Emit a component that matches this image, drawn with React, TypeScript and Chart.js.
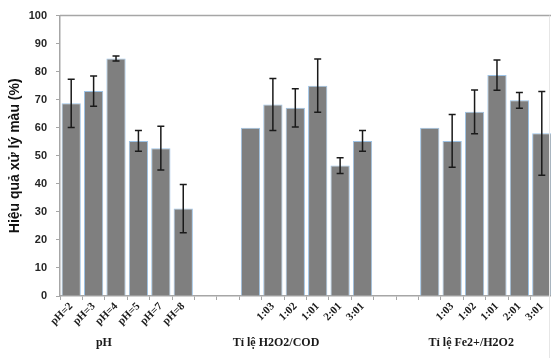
import React, { useEffect, useRef } from "react";
import { Chart, registerables } from "chart.js";

Chart.register(...registerables);

const categories: string[] = [
  "pH=2", "pH=3", "pH=4", "pH=5", "pH=7", "pH=8",
  "", "",
  "", "1:03", "1:02", "1:01", "2:01", "3:01",
  "", "",
  "", "1:03", "1:02", "1:01", "2:01", "3:01",
];

const values: (number | null)[] = [
  68.7, 73.1, 84.7, 55.3, 52.7, 31.2,
  null, null,
  60, 68.3, 67.1, 75, 46.5, 55.3,
  null, null,
  60, 55.3, 65.7, 78.8, 69.8, 58,
];

const errors: number[] = [
  8.6, 5.4, 0.9, 3.7, 7.8, 8.6,
  0, 0,
  0, 9.3, 6.8, 9.5, 2.8, 3.7,
  0, 0,
  0, 9.4, 7.8, 5.4, 2.8, 14.9,
];

const groupLabels: string[] = ["pH", "Tỉ lệ H2O2/COD", "Tỉ lệ Fe2+/H2O2"];
const groupLabelPositions: number[] = [1.46, 9.14, 17.85];

const yTitle = "Hiệu quả xử lý màu (%)";

const errorBarPlugin = {
  id: "errorBars",
  afterDatasetsDraw(chart: any) {
    const meta = chart.getDatasetMeta(0);
    const y = chart.scales.y;
    const ctx = chart.ctx;
    ctx.save();
    ctx.strokeStyle = "#1a1a1a";
    ctx.lineWidth = 1.5;
    meta.data.forEach((bar: any, i: number) => {
      const v = values[i];
      const e = errors[i];
      if (v == null || !e) return;
      const x = bar.x;
      const yTop = y.getPixelForValue(v + e);
      const yBot = y.getPixelForValue(v - e);
      ctx.beginPath();
      ctx.moveTo(x, yTop);
      ctx.lineTo(x, yBot);
      ctx.moveTo(x - 3.5, yTop);
      ctx.lineTo(x + 3.5, yTop);
      ctx.moveTo(x - 3.5, yBot);
      ctx.lineTo(x + 3.5, yBot);
      ctx.stroke();
    });
    ctx.restore();
  },
};

const decorPlugin = {
  id: "decor",
  afterDraw(chart: any) {
    const ctx = chart.ctx;
    const area = chart.chartArea;
    const x = chart.scales.x;
    ctx.save();
    ctx.strokeStyle = "#a6a6a6";
    ctx.lineWidth = 1.5;
    ctx.beginPath();
    ctx.moveTo(area.left, area.top);
    ctx.lineTo(chart.width, area.top);
    ctx.stroke();
    ctx.strokeStyle = "#e6e6e6";
    ctx.lineWidth = 1;
    ctx.beginPath();
    ctx.moveTo(549.5, area.top);
    ctx.lineTo(549.5, chart.height);
    ctx.stroke();
    ctx.fillStyle = "#1a1a1a";
    ctx.font = "bold 12px 'Liberation Serif', 'Times New Roman', serif";
    ctx.textAlign = "center";
    ctx.textBaseline = "middle";
    groupLabels.forEach((t, i) => {
      ctx.fillText(t, x.getPixelForValue(groupLabelPositions[i]), 343);
    });
    ctx.restore();
  },
};

export default function App() {
  const ref = useRef<HTMLCanvasElement | null>(null);
  useEffect(() => {
    if (!ref.current) return;
    const chart = new Chart(ref.current, {
      type: "bar",
      data: {
        labels: categories,
        datasets: [
          {
            data: values,
            backgroundColor: "#7f7f7f",
            borderColor: "#9dc3e6",
            borderWidth: 1,
            barPercentage: 0.86,
            categoryPercentage: 1,
          },
        ],
      },
      options: {
        responsive: false,
        animation: false,
        devicePixelRatio: 1,
        layout: { padding: { top: 8, left: 0, right: 0, bottom: 0 } },
        plugins: {
          legend: { display: false },
          tooltip: { enabled: false },
        },
        scales: {
          x: {
            grid: {
              drawOnChartArea: false,
              drawTicks: true,
              tickLength: 4,
              color: "#a6a6a6",
              offset: true,
            },
            border: { color: "#a6a6a6", width: 1.5 },
            ticks: {
              autoSkip: false,
              minRotation: 45,
              maxRotation: 45,
              padding: 0,
              color: "#1a1a1a",
              font: { family: "'Liberation Serif', 'Times New Roman', serif", size: 11, weight: "bold" },
            },
            afterFit(scale: any) {
              scale.height = 62;
            },
          },
          y: {
            min: 0,
            max: 100,
            ticks: {
              stepSize: 10,
              padding: 9,
              color: "#262626",
              font: { family: "'Liberation Sans', Arial, sans-serif", size: 11, weight: "bold" },
            },
            grid: {
              drawOnChartArea: false,
              drawTicks: true,
              tickLength: 4,
              color: "#a6a6a6",
            },
            border: { color: "#a6a6a6", width: 1.5 },
            title: {
              display: true,
              text: yTitle,
              color: "#111111",
              padding: { top: 7, bottom: 0 },
              font: { family: "'Liberation Sans', Arial, sans-serif", size: 14, weight: "bold" },
            },
            afterFit(scale: any) {
              scale.width = 60;
            },
          },
        },
      },
      plugins: [errorBarPlugin, decorPlugin],
    });
    return () => chart.destroy();
  }, []);
  return (
    <div style={{ position: "fixed", left: 0, top: 0, width: 551, height: 358, overflow: "hidden", background: "#fff" }}>
      <canvas ref={ref} width={553} height={358} style={{ display: "block" }} />
    </div>
  );
}
